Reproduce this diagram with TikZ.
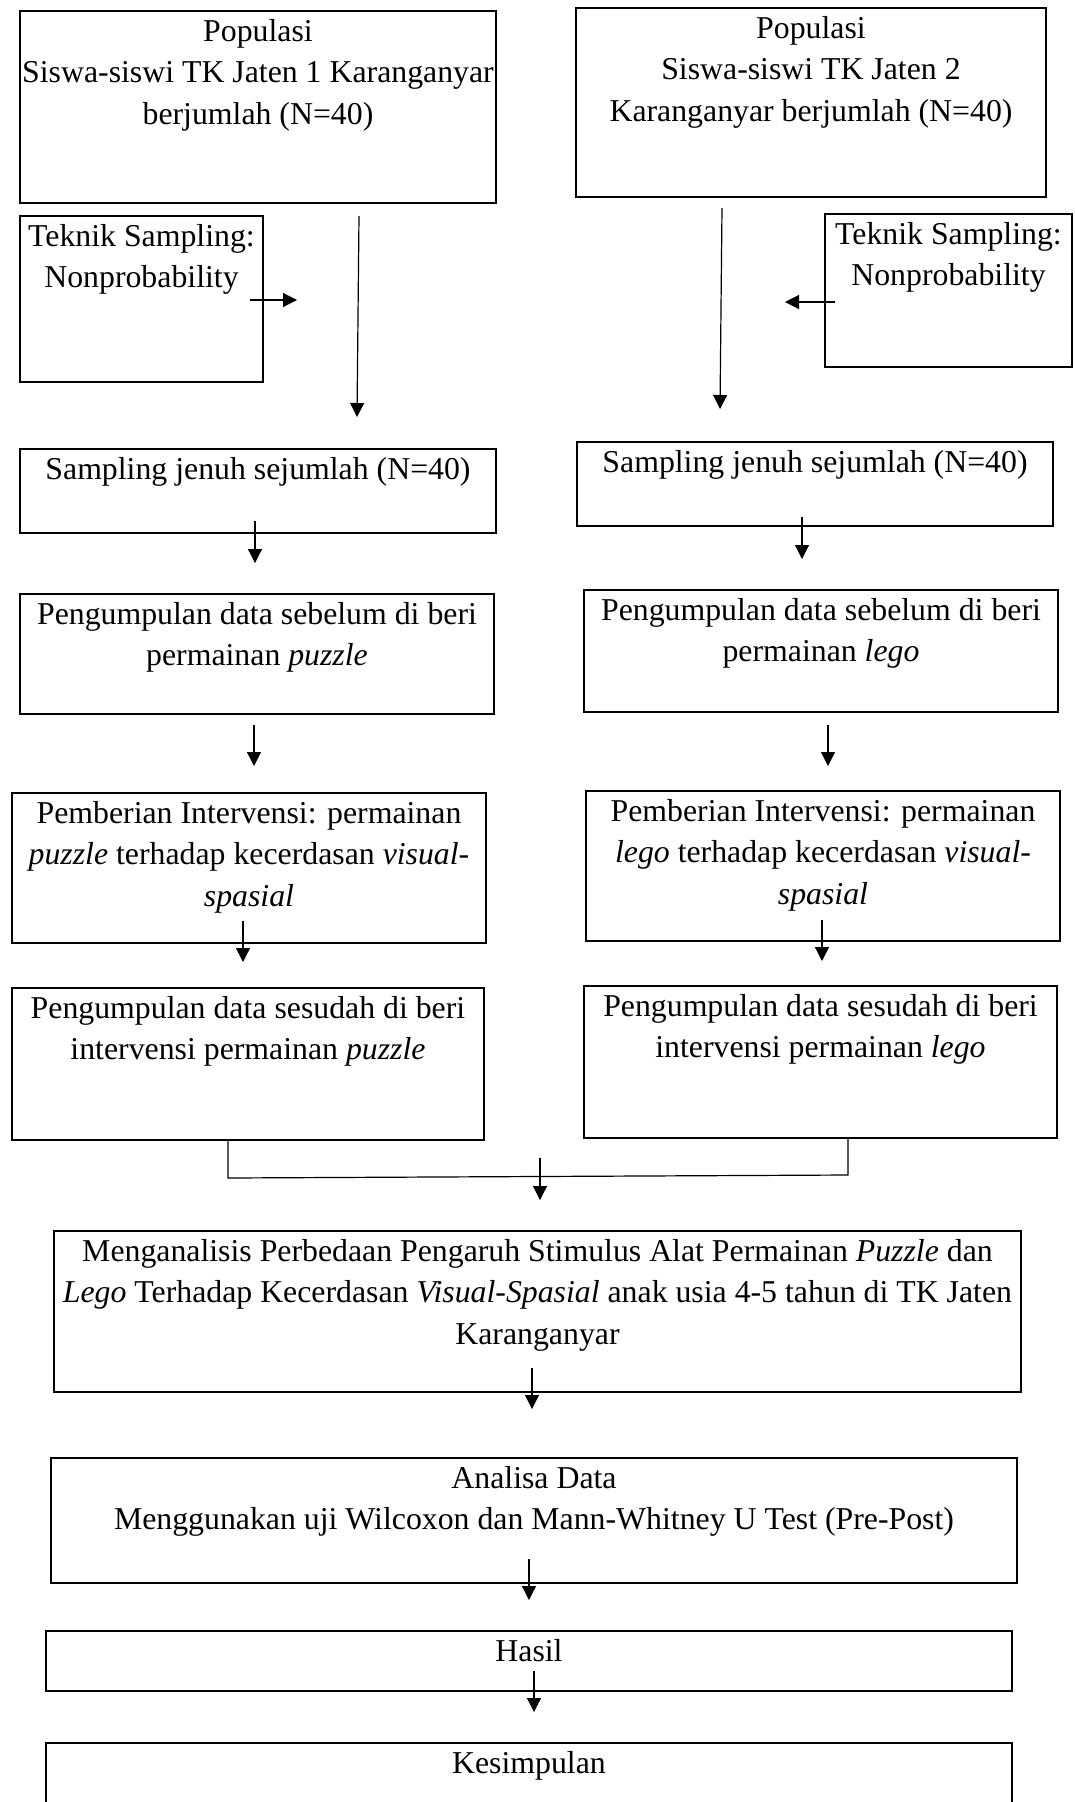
\documentclass[tikz,border=0pt]{standalone}
\usepackage{fontspec}
\setmainfont{Liberation Serif}
\usetikzlibrary{arrows.meta}
\tikzset{
box/.style={draw, line width=1.4pt, anchor=north west, inner sep=0pt, outer sep=0pt},
txt/.style={anchor=north, align=center, inner sep=0pt, font=\fontsize{31.8}{41.5}\selectfont},
flow/.style={line width=1.2pt, -{Triangle[width=14pt,length=14pt]}},
link/.style={line width=1.2pt}
}

\begin{document}
\begin{tikzpicture}[x=1pt, y=-1pt]
\useasboundingbox (0,0) rectangle (1074,1802);
\clip (0,0) rectangle (1074,1802);

\node[box, minimum width=476pt, minimum height=192pt] (pop1) at (20,11) {};
\node[box, minimum width=470pt, minimum height=189pt] (pop2) at (576,8) {};
\node[box, minimum width=243pt, minimum height=166pt] (tek1) at (20,216) {};
\node[box, minimum width=247pt, minimum height=153pt] (tek2) at (825,214) {};
\node[box, minimum width=476pt, minimum height=84pt] (samp1) at (20,449) {};
\node[box, minimum width=476pt, minimum height=84pt] (samp2) at (577,442) {};
\node[box, minimum width=474pt, minimum height=120pt] (pre1) at (20,594) {};
\node[box, minimum width=474pt, minimum height=122pt] (pre2) at (584,590) {};
\node[box, minimum width=474pt, minimum height=150pt] (int1) at (12,793) {};
\node[box, minimum width=474pt, minimum height=150pt] (int2) at (586,791) {};
\node[box, minimum width=472pt, minimum height=152pt] (post1) at (12,988) {};
\node[box, minimum width=473pt, minimum height=152pt] (post2) at (584,986) {};
\node[box, minimum width=967pt, minimum height=161pt] (anal) at (54,1231) {};
\node[box, minimum width=966pt, minimum height=125pt] (data) at (51,1458) {};
\node[box, minimum width=966pt, minimum height=60pt] (hasil) at (46,1631) {};
\node[box, minimum width=966pt, minimum height=100pt] (simp) at (46,1743) {};

\node[txt] (pop1t) at ([yshift=-8pt]pop1.north) {Populasi\\Siswa-siswi TK Jaten 1 Karanganyar\\berjumlah (N=40)};
\node[txt] (pop2t) at ([yshift=-8pt]pop2.north) {Populasi\\Siswa-siswi TK Jaten 2\\Karanganyar berjumlah (N=40)};
\node[txt] (tek1t) at ([yshift=-8pt]tek1.north) {Teknik Sampling:\\Nonprobability};
\node[txt] (tek2t) at ([yshift=-8pt]tek2.north) {Teknik Sampling:\\Nonprobability};
\node[txt] (samp1t) at ([yshift=-8pt]samp1.north) {Sampling jenuh sejumlah (N=40)};
\node[txt] (samp2t) at ([yshift=-8pt]samp2.north) {Sampling jenuh sejumlah (N=40)};
\node[txt] (pre1t) at ([yshift=-8pt]pre1.north) {Pengumpulan data sebelum di beri\\permainan \textit{puzzle}};
\node[txt] (pre2t) at ([yshift=-8pt]pre2.north) {Pengumpulan data sebelum di beri\\permainan \textit{lego}};
\node[txt] (int1t) at ([yshift=-8pt]int1.north) {Pemberian Intervensi: permainan\\\textit{puzzle} terhadap kecerdasan \textit{visual-}\\\textit{spasial}};
\node[txt] (int2t) at ([yshift=-8pt]int2.north) {Pemberian Intervensi: permainan\\\textit{lego} terhadap kecerdasan \textit{visual-}\\\textit{spasial}};
\node[txt] (post1t) at ([yshift=-8pt]post1.north) {Pengumpulan data sesudah di beri\\intervensi permainan \textit{puzzle}};
\node[txt] (post2t) at ([yshift=-8pt]post2.north) {Pengumpulan data sesudah di beri\\intervensi permainan \textit{lego}};
\node[txt] (analt) at ([yshift=-8pt]anal.north) {Menganalisis Perbedaan Pengaruh Stimulus Alat Permainan \textit{Puzzle} dan\\\textit{Lego} Terhadap Kecerdasan \textit{Visual-Spasial} anak usia 4-5 tahun di TK Jaten\\Karanganyar};
\node[txt] (datat) at ([yshift=-8pt]data.north) {Analisa Data\\Menggunakan uji Wilcoxon dan Mann-Whitney U Test (Pre-Post)};
\node[txt] (hasilt) at ([yshift=-8pt]hasil.north) {Hasil};
\node[txt] (simpt) at ([yshift=-8pt]simp.north) {Kesimpulan};

\coordinate (d1a) at (359,216); \coordinate (d1b) at (357,417);
\coordinate (d2a) at (722,208); \coordinate (d2b) at (720,409);
\coordinate (s1a) at (250,300); \coordinate (s1b) at (297,300);
\coordinate (s2a) at (835,302); \coordinate (s2b) at (785,302);
\coordinate (e1a) at (255,521); \coordinate (e1b) at (255,563);
\coordinate (e2a) at (802,517); \coordinate (e2b) at (802,559);
\coordinate (f1a) at (254,725); \coordinate (f1b) at (254,766);
\coordinate (f2a) at (828,725); \coordinate (f2b) at (828,766);
\coordinate (g1a) at (243,921); \coordinate (g1b) at (243,962);
\coordinate (g2a) at (822,920); \coordinate (g2b) at (822,961);
\coordinate (m1) at (228,1140); \coordinate (m2) at (228,1178);
\coordinate (m3) at (848,1175); \coordinate (m4) at (848,1138);
\coordinate (ma) at (540,1158); \coordinate (mb) at (540,1200);
\coordinate (h1a) at (532,1368); \coordinate (h1b) at (532,1409);
\coordinate (h2a) at (529,1559); \coordinate (h2b) at (529,1600);
\coordinate (h3a) at (534,1671); \coordinate (h3b) at (534,1712);

\draw[flow] (d1a) -- (d1b);
\draw[flow] (d2a) -- (d2b);
\draw[flow] (s1a) -- (s1b);
\draw[flow] (s2a) -- (s2b);
\draw[flow] (e1a) -- (e1b);
\draw[flow] (e2a) -- (e2b);
\draw[flow] (f1a) -- (f1b);
\draw[flow] (f2a) -- (f2b);
\draw[flow] (g1a) -- (g1b);
\draw[flow] (g2a) -- (g2b);
\draw[link] (m1) -- (m2) -- (m3) -- (m4);
\draw[flow] (ma) -- (mb);
\draw[flow] (h1a) -- (h1b);
\draw[flow] (h2a) -- (h2b);
\draw[flow] (h3a) -- (h3b);
\end{tikzpicture}
\end{document}
